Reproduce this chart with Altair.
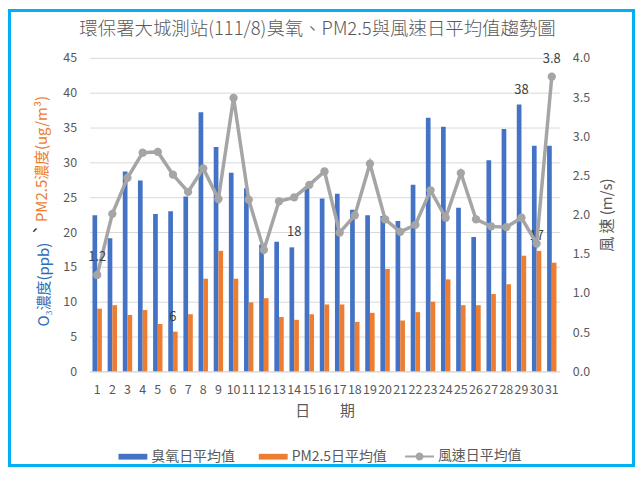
import altair as alt
import pandas as pd

FONT = "Noto Sans CJK TC"

days = list(range(1, 32))
o3 = [22.4, 19.1, 28.7, 27.4, 22.6, 23.0, 25.1, 37.2, 32.2, 28.5,
      26.3, 18.2, 18.6, 17.8, 26.4, 24.8, 25.5, 23.2, 22.4, 22.3,
      21.6, 26.8, 36.4, 35.1, 23.5, 19.3, 30.3, 34.8, 38.3, 32.4, 32.4]
pm25 = [9.0, 9.5, 8.1, 8.8, 6.8, 5.7, 8.2, 13.3, 17.3, 13.3,
        9.9, 10.5, 7.8, 7.4, 8.2, 9.6, 9.6, 7.1, 8.4, 14.7,
        7.3, 8.5, 10.0, 13.2, 9.5, 9.5, 11.1, 12.5, 16.6, 17.3, 15.6]
wind = [1.23, 2.01, 2.47, 2.79, 2.80, 2.51, 2.29, 2.59, 2.20, 3.49,
        2.19, 1.55, 2.17, 2.22, 2.38, 2.55, 1.77, 1.99, 2.65, 1.94,
        1.78, 1.87, 2.31, 1.96, 2.53, 1.94, 1.85, 1.84, 1.96, 1.63, 3.76]
o3_label_days = [14, 29]
pm25_label_days = [6, 30]
wind_label_days = [1, 31]

series_names = ["臭氧日平均值", "PM2.5日平均值", "風速日平均值"]
series_colors = ["#4472C4", "#ED7D31", "#A5A5A5"]
left_ticks = [0, 5, 10, 15, 20, 25, 30, 35, 40, 45]
right_ticks = [0, 0.5, 1.0, 1.5, 2.0, 2.5, 3.0, 3.5, 4.0]

TITLE = "環保署大城測站(111/8)臭氧、PM2.5與風速日平均值趨勢圖"
Y_LEFT_O3 = "O₃濃度(ppb)"
Y_LEFT_SEP = "、"
Y_LEFT_PM = "PM2.5濃度(ug/m³)"
Y_RIGHT = "風 速 (m/s)"
X_TITLE = "日　　期"

rows = []
for d, v in zip(days, o3):
    rows.append({"day": d, "series": series_names[0], "value": v,
                 "label": str(round(v)) if d in o3_label_days else ""})
for d, v in zip(days, pm25):
    rows.append({"day": d, "series": series_names[1], "value": v,
                 "label": str(round(v)) if d in pm25_label_days else ""})
bars_df = pd.DataFrame(rows)
wind_df = pd.DataFrame({
    "day": days, "wind": wind, "series": series_names[2],
    "label": [f"{w:.1f}" if d in wind_label_days else "" for d, w in zip(days, wind)],
})

RECT_PATH = "M-1,-0.2L1,-0.2L1,0.2L-1,0.2Z"
LINE_DOT_PATH = ("M-1,-0.07L1,-0.07L1,0.07L-1,0.07Z "
                 "M0.28,0 A0.28,0.28 0 1 1 -0.28,0 A0.28,0.28 0 1 1 0.28,0 Z")

x_enc = alt.X("day:O", scale=alt.Scale(paddingInner=0.38, paddingOuter=0.19),
              axis=alt.Axis(title=X_TITLE, labelAngle=0, ticks=False, tickSize=0,
                            domainColor="#D9D9D9", labelPadding=12, titlePadding=8,
                            titleFontSize=15, labelOverlap=False))

y_left = alt.Y("value:Q", scale=alt.Scale(domain=[0, 45], nice=False),
               axis=alt.Axis(values=left_ticks, title=None, grid=True, gridColor="#D9D9D9",
                             domain=False, ticks=False, tickSize=0, labelPadding=13))
y_right = alt.Y("wind:Q", scale=alt.Scale(domain=[0, 4], nice=False),
                axis=alt.Axis(orient="right", values=right_ticks, format=".1f", grid=False,
                              domain=False, ticks=False, tickSize=0, labelPadding=13,
                              title=Y_RIGHT, titleAngle=270, titleBaseline="top",
                              titlePadding=10, titleFontSize=15))

one = alt.Data(values=[{}])

frame = alt.Chart(one).mark_rect(fillOpacity=0, stroke="#00B0F0", strokeWidth=3).encode(
    x=alt.value(-80.5), x2=alt.value(546.5), y=alt.value(-47.5), y2=alt.value(409.5))

title = alt.Chart(one).mark_text(text=TITLE, font=FONT, fontSize=18.5, fontWeight=300,
                                 color="#595959", align="center", baseline="middle").encode(
    x=alt.value(229), y=alt.value(-29))

yt_o3 = alt.Chart(one).mark_text(text=Y_LEFT_O3, font=FONT, fontSize=15, color="#2F6EBA",
                                 align="left", baseline="middle", angle=270).encode(
    x=alt.value(-46), y=alt.value(270))
yt_sep = alt.Chart(one).mark_text(text=Y_LEFT_SEP, font=FONT, fontSize=15, color="#262626",
                                  align="center", baseline="middle", angle=270).encode(
    x=alt.value(-55), y=alt.value(173))
yt_pm = alt.Chart(one).mark_text(text=Y_LEFT_PM, font=FONT, fontSize=15, color="#ED7D31",
                                 align="left", baseline="middle", angle=270).encode(
    x=alt.value(-48), y=alt.value(165))

leg_common = dict(orient="none", direction="horizontal", title=None,
                  symbolSize=841, symbolStrokeWidth=0, labelFontSize=14, labelFont=FONT,
                  labelColor="#595959", columnPadding=24, labelOffset=4)

bars = alt.Chart(bars_df).mark_bar().encode(
    x=x_enc,
    xOffset=alt.XOffset("series:N", scale=alt.Scale(domain=series_names[:2], paddingInner=0, paddingOuter=0)),
    y=y_left,
    color=alt.Color("series:N", scale=alt.Scale(domain=series_names[:2], range=series_colors[:2]),
                    legend=alt.Legend(legendX=29, legendY=386, symbolType=RECT_PATH, **leg_common)),
)
bar_labels = alt.Chart(bars_df).mark_text(font=FONT, fontSize=13, color="#404040",
                                          baseline="middle", dy=-15).encode(
    x=x_enc, y=y_left, text="label:N").transform_filter("datum.label != ''")

line = alt.Chart(wind_df).mark_line(color="#A5A5A5", strokeWidth=3.5).encode(x=x_enc, y=y_right)
points = alt.Chart(wind_df).mark_point(filled=True, size=70, opacity=1).encode(
    x=x_enc, y=y_right,
    fill=alt.Fill("series:N", scale=alt.Scale(domain=series_names[2:], range=series_colors[2:]),
                  legend=alt.Legend(legendX=317, legendY=386, symbolType=LINE_DOT_PATH, **leg_common)),
)
wind_labels = alt.Chart(wind_df).mark_text(font=FONT, fontSize=13, color="#404040",
                                           baseline="middle", dy=-18).encode(
    x=x_enc, y=y_right, text="label:N").transform_filter("datum.label != ''")

left = alt.layer(frame, title, yt_o3, yt_sep, yt_pm, bars, bar_labels)
right = alt.layer(line, points, wind_labels)

chart = alt.layer(left, right).resolve_scale(y="independent").properties(
    width=472, height=315,
    padding={"left": 82, "top": 49, "right": 76, "bottom": 96},
    autosize=alt.AutoSizeParams(type="none"),
).configure_view(stroke=None).configure_axis(
    labelFont=FONT, titleFont=FONT, labelFontSize=12.5, labelColor="#595959",
    titleColor="#595959", titleFontWeight="normal",
)

chart.save("out.html", embed_options={"renderer": "svg", "actions": False})
